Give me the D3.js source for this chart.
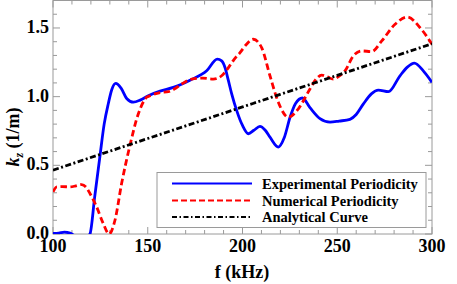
<!DOCTYPE html>
<html><head><meta charset="utf-8">
<script src="https://cdn.jsdelivr.net/npm/d3@7"></script>
<style>body{margin:0;background:#fff} text{font-family:"Liberation Serif","Times New Roman",Times,serif;font-weight:bold}</style>
</head><body>
<svg id="c" width="457" height="284"></svg>
<script>
const expF = [100,103,106,109,110.5,113,116,119.5,122,124.8,127,129.2,131,133.1,136,139,142.4,146,150.3,156.5,163.5,172.3,181.1,186.7,189,190.8,192.5,194.3,196.9,200,203.1,206,209.2,212,214.5,218.9,222,225.1,228,231.6,235.6,240.9,246.2,251,256.7,260,263.8,268,271.7,277,283.1,287,290.7,295.4,300];
const expK = [0.004,0.006,0.013,0.006,-0.005,-0.03,-0.04,0.0,0.27,0.57,0.8,0.95,1.05,1.096,1.06,0.985,0.96,0.975,1.007,1.04,1.067,1.12,1.188,1.273,1.26,1.21,1.12,1.02,0.9,0.79,0.73,0.755,0.783,0.755,0.705,0.633,0.7,0.85,0.95,0.99,0.92,0.84,0.814,0.822,0.835,0.87,0.947,1.02,1.048,1.036,1.152,1.215,1.244,1.188,1.104];
const numF = [100,102,105,109,112,115.1,117.5,119.5,123,126.5,129.6,132.7,136.2,140.6,145,149.4,151.2,156.5,160.9,164,167.9,173.2,179,184.6,189,192.5,195.5,198.7,202,205.7,210.1,214.5,218.9,224.2,229.4,235.6,239,241.8,244.5,247.9,251,254.1,258.5,262.9,268.2,273.5,280.5,287,293.7,300];
const numK = [0.307,0.343,0.345,0.343,0.35,0.36,0.34,0.295,0.198,0.077,0.0,0.10,0.367,0.645,0.874,0.995,1.007,1.03,1.036,1.055,1.092,1.128,1.135,1.128,1.152,1.21,1.27,1.32,1.38,1.418,1.357,1.152,0.959,0.85,0.91,1.056,1.13,1.157,1.145,1.128,1.15,1.188,1.297,1.333,1.328,1.406,1.527,1.58,1.502,1.382];
const anaF = [100,150,200,250,300];
const anaK = [0.465,0.695,0.925,1.155,1.385];
const xTicks = [100,150,200,250,300];
const yTicks = [0.0,0.5,1.0,1.5];
const seriesNames = ["Experimental Periodicity","Numerical Periodicity","Analytical Curve"];

const svg = d3.select("#c");
const L=53, R=432, T=0.5, B=234;
const x = d3.scaleLinear().domain([100,300]).range([L,R]);
const y = d3.scaleLinear().domain([0,1.7]).range([B,T]);
const gray = "#9a9a9a";

svg.append("clipPath").attr("id","clip").append("rect")
  .attr("x",L).attr("y",T).attr("width",R-L).attr("height",B-T);

const g = svg.append("g");
const xMinor = d3.range(100,301,10), yMinor = d3.range(0,1.71,0.1);
xMinor.forEach(v=>{
  const major = v%50===0; const len = major?7:4;
  g.append("line").attr("x1",x(v)).attr("x2",x(v)).attr("y1",B).attr("y2",B-len).attr("stroke",gray).attr("stroke-width",1);
  g.append("line").attr("x1",x(v)).attr("x2",x(v)).attr("y1",T).attr("y2",T+len).attr("stroke",gray).attr("stroke-width",1);
});
yMinor.forEach(v=>{
  const major = Math.abs(v*2-Math.round(v*2))<1e-6; const len = major?7:4;
  g.append("line").attr("y1",y(v)).attr("y2",y(v)).attr("x1",L).attr("x2",L+len).attr("stroke",gray).attr("stroke-width",1);
  g.append("line").attr("y1",y(v)).attr("y2",y(v)).attr("x1",R).attr("x2",R-len).attr("stroke",gray).attr("stroke-width",1);
});
svg.append("rect").attr("x",L).attr("y",T).attr("width",R-L).attr("height",B-T)
  .attr("fill","none").attr("stroke",gray).attr("stroke-width",1);

xTicks.forEach(v=>{
  svg.append("text").attr("x",x(v)).attr("y",252).attr("text-anchor","middle")
    .attr("font-size",18).text(v);
});
yTicks.forEach(v=>{
  svg.append("text").attr("x",49).attr("y",y(v)+5).attr("text-anchor","end")
    .attr("font-size",18).text(v.toFixed(1));
});
svg.append("text").attr("x",242).attr("y",278).attr("text-anchor","middle")
  .attr("font-size",18).text("f (kHz)");
const yt = svg.append("text").attr("transform","translate(19,137) rotate(-90)").attr("text-anchor","middle")
  .attr("font-size",18);
yt.append("tspan").attr("font-style","italic").text("k");
yt.append("tspan").attr("font-style","italic").attr("font-size",12).attr("dy",4).text("z");
yt.append("tspan").attr("dy",-4).text(" (1/m)");

const line = d3.line().x(d=>x(d[0])).y(d=>y(d[1])).curve(d3.curveMonotoneX);
const plot = svg.append("g").attr("clip-path","url(#clip)");
const styles = [
  {f:expF,k:expK,color:"#0000ff",dash:null},
  {f:numF,k:numK,color:"#ff0000",dash:"6.5,3.5"},
  {f:anaF,k:anaK,color:"#000000",dash:"6,2.5,2,2.5"}
];
styles.forEach(s=>{
  plot.append("path").datum(d3.zip(s.f,s.k)).attr("d",line).attr("fill","none")
    .attr("stroke",s.color).attr("stroke-width",2.8).attr("stroke-dasharray",s.dash);
});

svg.append("rect").attr("x",157).attr("y",172.5).attr("width",269).attr("height",55)
  .attr("fill","#fff").attr("stroke",gray).attr("stroke-width",1);
const rows=[183.5,200.5,217];
styles.forEach((s,i)=>{
  svg.append("line").attr("x1",172).attr("x2",252).attr("y1",rows[i]).attr("y2",rows[i])
    .attr("stroke",s.color).attr("stroke-width",2).attr("stroke-dasharray",s.dash?(i===1?"6,3":"5,2.5,1.5,2.5"):null);
  svg.append("text").attr("x",262).attr("y",rows[i]+5)
    .attr("font-size",14.5).text(seriesNames[i]);
});
</script>
</body></html>
